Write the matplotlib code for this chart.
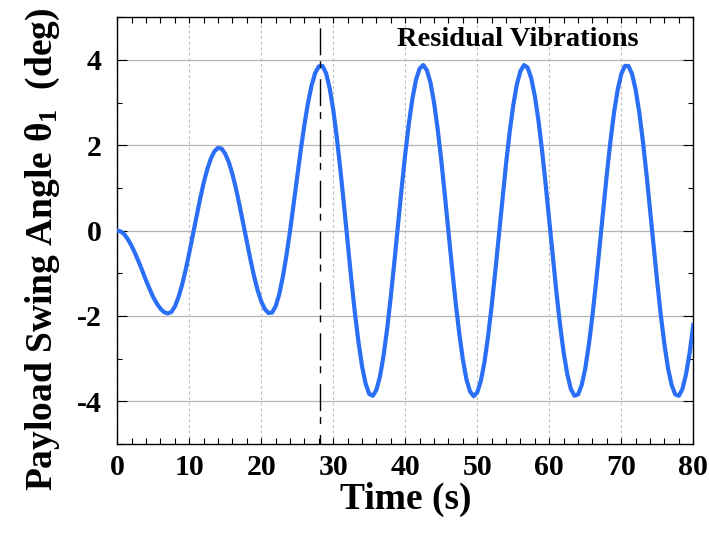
"""
Payload swing angle of the crane during the move and the residual
vibrations that follow it.
"""

import numpy as np
import matplotlib
matplotlib.use("Agg")
import matplotlib.pyplot as plt
from matplotlib.ticker import MultipleLocator

# sample times (s), one every 0.5 s
time_s = np.arange(0, 80.5, 0.5)

# swing angle (deg) at each sample time
swing_deg = [
    0.00, -0.02, -0.09, -0.21, -0.36, -0.54, -0.74, -0.95, -1.17, -1.37,
    -1.56, -1.71, -1.83, -1.91, -1.94, -1.91, -1.78, -1.56, -1.27, -0.92,
    -0.52, -0.10, 0.33, 0.74, 1.12, 1.44, 1.69, 1.86, 1.94, 1.92,
    1.80, 1.60, 1.32, 0.98, 0.58, 0.16, -0.27, -0.68, -1.07, -1.40,
    -1.66, -1.84, -1.93, -1.92, -1.77, -1.49, -1.08, -0.58, 0.00, 0.63,
    1.28, 1.91, 2.49, 3.00, 3.41, 3.70, 3.85, 3.86, 3.69, 3.34,
    2.83, 2.17, 1.41, 0.58, -0.28, -1.13, -1.92, -2.61, -3.18, -3.59,
    -3.83, -3.87, -3.73, -3.41, -2.91, -2.28, -1.53, -0.71, 0.15, 1.00,
    1.80, 2.51, 3.10, 3.54, 3.80, 3.88, 3.76, 3.47, 3.00, 2.38,
    1.65, 0.83, -0.02, -0.88, -1.69, -2.41, -3.02, -3.49, -3.77, -3.88,
    -3.79, -3.52, -3.08, -2.48, -1.76, -0.96, -0.11, 0.75, 1.57, 2.31,
    2.94, 3.43, 3.74, 3.88, 3.82, 3.57, 3.15, 2.58, 1.88, 1.08,
    0.24, -0.62, -1.45, -2.21, -2.86, -3.36, -3.71, -3.87, -3.84, -3.62,
    -3.23, -2.67, -1.99, -1.21, -0.37, 0.49, 1.33, 2.10, 2.77, 3.30,
    3.67, 3.86, 3.86, 3.67, 3.30, 2.77, 2.10, 1.33, 0.49, -0.37,
    -1.21, -1.99, -2.67, -3.23, -3.62, -3.84, -3.87, -3.71, -3.36, -2.86,
    -2.21,
]

# end of the move: residual vibrations start here
residual_start = 28.2

X_MIN, X_MAX = 0, 80
Y_MIN, Y_MAX = -5, 5

plt.rcParams["font.family"] = ["Liberation Serif", "DejaVu Serif"]
plt.rcParams["font.weight"] = "bold"
plt.rcParams["axes.unicode_minus"] = False
plt.rcParams["mathtext.fontset"] = "custom"
plt.rcParams["mathtext.rm"] = "Liberation Serif:bold"
plt.rcParams["mathtext.bf"] = "Liberation Serif:bold"
plt.rcParams["mathtext.default"] = "rm"

fig = plt.figure(figsize=(7.09, 5.35), dpi=100)
ax = fig.add_axes([0.1654, 0.1701, 0.8124, 0.7976])

ax.plot(time_s, swing_deg, color="#2a6ff5", lw=3.0, zorder=3)
ax.plot([residual_start, residual_start], [Y_MAX, Y_MIN], color="black",
        lw=1.0, linestyle=(28.8, (19.4, 4.3, 5.0, 7.9)), zorder=4)

ax.text(55.6, 4.48, "Residual Vibrations", ha="center", va="center",
        fontsize=20.5, fontweight="bold")

ax.set_xlim(X_MIN, X_MAX)
ax.set_ylim(Y_MIN, Y_MAX)
ax.xaxis.set_major_locator(MultipleLocator(10))
ax.xaxis.set_minor_locator(MultipleLocator(2))
ax.yaxis.set_major_locator(MultipleLocator(2))
ax.yaxis.set_minor_locator(MultipleLocator(1))

ax.set_axisbelow(True)
ax.yaxis.grid(True, which="major", color="#b4b4b4", lw=0.9, ls="-")
ax.xaxis.grid(True, which="major", color="#bcbcbc", lw=0.8, ls=(0, (2.5, 2.5)))

ax.tick_params(axis="both", which="both", direction="in", top=True,
               right=True, width=0.8, labelsize=21.5)
ax.tick_params(axis="x", which="both", length=4.3, pad=7)
ax.tick_params(axis="y", which="major", length=7.2, pad=11)
ax.tick_params(axis="y", which="minor", length=3.8)
for spine in ax.spines.values():
    spine.set_linewidth(1.0)

ax.set_xlabel("Time (s)", fontsize=27, fontweight="bold", labelpad=1)
ax.set_ylabel("Payload Swing Angle \u03b8$_1$  (deg)", fontsize=27,
              fontweight="bold")
ax.yaxis.set_label_coords(-0.096, 0.455)

fig.savefig("out.png", dpi=100)
